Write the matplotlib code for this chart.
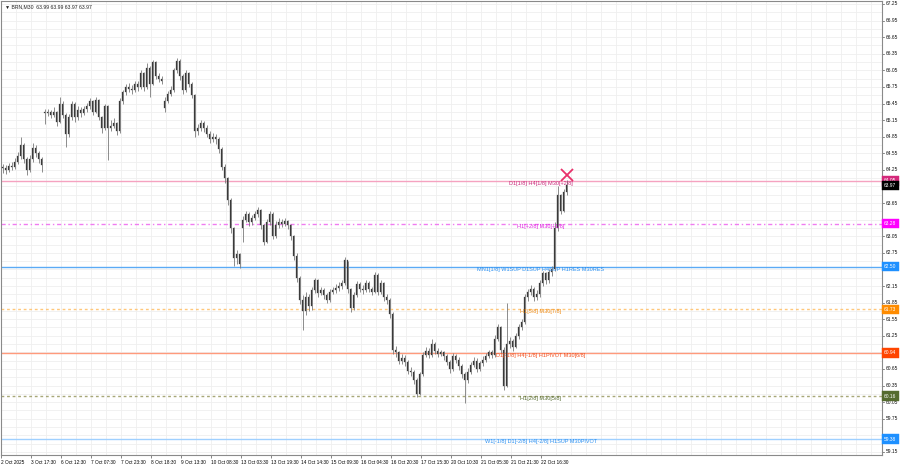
import matplotlib
matplotlib.use("Agg")
import matplotlib.pyplot as plt
import matplotlib.transforms as mtransforms
import numpy as np

# ---------------- data ----------------
closes = [64.28, 64.25, 64.32, 64.30, 64.40, 64.50, 64.70, 64.45, 64.25, 64.45,
          64.65, 64.55, 64.45, 64.33, 65.28, 65.30, 65.25, 65.30, 65.12, 65.45,
          65.25, 64.90, 65.20, 65.45, 65.20, 65.33, 65.28, 65.35, 65.40, 65.50,
          65.30, 65.52, 65.20, 65.00, 65.40, 65.00, 65.05, 65.10, 64.95, 65.50,
          65.65, 65.75, 65.72, 65.70, 65.80, 65.75, 66.00, 65.75, 66.10, 65.80,
          66.20, 65.95, 65.90, 65.85, 65.50, 65.62, 65.70, 66.05, 66.22, 65.95,
          65.70, 66.00, 65.80, 65.60, 64.95, 65.00, 65.10, 65.00, 64.90, 64.80,
          64.85, 64.80, 64.62, 64.30, 64.10, 63.70, 63.20, 62.65, 62.72, 62.55,
          63.35, 63.45, 63.30, 63.38, 63.45, 63.52, 63.25, 62.95, 63.30, 63.45,
          63.05, 63.25, 63.30, 63.28, 63.32, 63.25, 63.05, 62.70, 62.30, 61.90,
          61.70, 61.95, 61.78, 62.08, 62.25, 62.02, 62.08, 61.98, 61.90, 62.05,
          62.08, 62.12, 62.15, 62.20, 62.62, 62.10, 61.75, 61.98, 62.18, 62.10,
          62.08, 62.20, 62.10, 62.05, 62.35, 62.05, 62.20, 61.95, 61.90, 61.65,
          61.00, 60.95, 60.80, 60.85, 60.78, 60.62, 60.60, 60.45, 60.20, 60.55,
          60.90, 60.98, 60.90, 61.10, 60.98, 60.92, 60.95, 60.88, 60.78, 60.65,
          60.88, 60.82, 60.70, 60.55, 60.45, 60.60, 60.72, 60.80, 60.65, 60.75,
          60.82, 60.88, 60.95, 60.90, 61.20, 61.40, 61.00, 60.35, 61.10, 61.15,
          61.05, 61.25, 61.40, 61.50, 61.95, 62.05, 62.10, 61.95, 62.00, 62.20,
          62.38, 62.25, 62.40, 62.45, 63.20, 63.80, 63.50, 63.85, 63.97]

highs = [64.36, 64.33, 64.38, 64.40, 64.46, 64.58, 64.84, 64.74, 64.48, 64.52,
         64.74, 64.70, 64.60, 64.48, 65.36, 65.36, 65.34, 65.38, 65.32, 65.57,
         65.50, 65.28, 65.26, 65.50, 65.48, 65.40, 65.38, 65.40, 65.46, 65.55,
         65.52, 65.57, 65.54, 65.22, 65.44, 65.42, 65.15, 65.18, 65.12, 65.55,
         65.70, 65.80, 65.82, 65.78, 65.86, 65.85, 66.06, 66.02, 66.18, 66.12,
         66.24, 66.22, 66.00, 65.95, 65.56, 65.68, 65.76, 66.10, 66.27, 66.25,
         65.98, 66.06, 66.02, 65.84, 65.62, 65.08, 65.16, 65.14, 65.06, 64.95,
         64.92, 64.90, 64.84, 64.66, 64.35, 64.12, 63.75, 63.22, 62.80, 62.75,
         63.42, 63.50, 63.48, 63.44, 63.50, 63.58, 63.55, 63.28, 63.36, 63.50,
         63.48, 63.32, 63.38, 63.36, 63.38, 63.35, 63.28, 63.08, 62.74, 62.34,
         61.98, 62.05, 62.00, 62.14, 62.30, 62.28, 62.14, 62.12, 62.02, 62.10,
         62.14, 62.18, 62.22, 62.26, 62.67, 62.60, 62.12, 62.04, 62.24, 62.22,
         62.16, 62.26, 62.24, 62.14, 62.40, 62.38, 62.26, 62.22, 62.00, 61.94,
         61.68, 61.06, 60.98, 60.92, 60.90, 60.82, 60.68, 60.64, 60.48, 60.60,
         60.96, 61.04, 61.02, 61.20, 61.14, 61.02, 61.00, 60.98, 60.92, 60.82,
         60.94, 60.92, 60.86, 60.74, 60.60, 60.66, 60.78, 60.86, 60.84, 60.80,
         60.88, 60.94, 61.00, 61.00, 61.26, 61.46, 61.42, 61.04, 61.84, 61.22,
         61.20, 61.30, 61.46, 61.56, 62.00, 62.10, 62.16, 62.14, 62.08, 62.26,
         62.42, 62.40, 62.46, 62.52, 63.30, 63.95, 63.82, 63.90, 64.07]

lows = [64.20, 64.18, 64.22, 64.24, 64.27, 64.36, 64.45, 64.38, 64.16, 64.22,
        64.40, 64.48, 64.38, 64.22, 65.08, 65.22, 65.18, 65.20, 65.05, 65.10,
        65.18, 64.67, 64.85, 65.15, 65.12, 65.15, 65.20, 65.24, 65.30, 65.36,
        65.25, 65.28, 65.15, 64.92, 64.98, 64.43, 64.95, 65.00, 64.88, 64.92,
        65.45, 65.60, 65.66, 65.62, 65.66, 65.68, 65.72, 65.68, 65.72, 65.57,
        65.78, 65.90, 65.84, 65.80, 65.30, 65.46, 65.58, 65.66, 66.00, 65.88,
        65.62, 65.66, 65.74, 65.55, 64.84, 64.88, 64.95, 64.94, 64.84, 64.74,
        64.76, 64.72, 64.55, 64.24, 64.02, 63.62, 63.10, 62.52, 62.55, 62.47,
        62.95, 63.30, 63.24, 63.26, 63.34, 63.40, 63.18, 62.89, 62.92, 63.26,
        63.00, 63.02, 63.20, 63.22, 63.24, 63.18, 62.98, 62.62, 62.22, 61.82,
        61.35, 61.62, 61.70, 61.72, 62.02, 61.95, 61.98, 61.92, 61.84, 61.86,
        62.00, 62.02, 62.06, 62.10, 62.16, 62.02, 61.68, 61.72, 61.95, 62.04,
        62.00, 62.04, 62.04, 61.98, 62.02, 61.98, 62.00, 61.88, 61.82, 61.58,
        60.92, 60.86, 60.74, 60.74, 60.70, 60.56, 60.52, 60.38, 60.14, 60.18,
        60.52, 60.86, 60.84, 60.86, 60.92, 60.86, 60.88, 60.82, 60.72, 60.58,
        60.62, 60.76, 60.64, 60.48, 60.04, 60.40, 60.56, 60.68, 60.60, 60.62,
        60.70, 60.78, 60.84, 60.84, 60.86, 61.15, 60.94, 60.27, 60.32, 61.02,
        60.98, 61.02, 61.20, 61.36, 61.46, 61.88, 61.98, 61.88, 61.90, 61.96,
        62.15, 62.18, 62.20, 62.34, 62.42, 63.15, 63.45, 63.48, 63.80]

first_open = 64.30
gap_bars = [14, 54, 80]
gap_opens = [65.30, 65.37, 63.20]

time_labels = ["2 Oct 2025", "3 Oct 17:30", "6 Oct 12:30", "7 Oct 07:30",
               "7 Oct 23:30", "8 Oct 18:30", "9 Oct 13:30", "10 Oct 08:30",
               "13 Oct 03:30", "13 Oct 19:30", "14 Oct 14:30", "15 Oct 09:30",
               "16 Oct 04:30", "16 Oct 20:30", "17 Oct 15:30", "20 Oct 10:30",
               "21 Oct 05:30", "21 Oct 21:30", "22 Oct 16:30"]

price_ticks = [67.25, 66.95, 66.65, 66.35, 66.05, 65.75, 65.45, 65.15, 64.85,
               64.55, 64.25, 63.95, 63.65, 63.35, 63.05, 62.75, 62.45, 62.15,
               61.85, 61.55, 61.25, 60.95, 60.65, 60.35, 60.05, 59.75, 59.45,
               59.15]

level_prices = [64.05, 63.28, 62.50, 61.73, 60.94, 60.16, 59.38]
level_texts = ["D1[1/8] H4[1/8] M30[+2/8]",
               "H1[+2/8] M30[+1/8]",
               "MN1[1/8] W1SUP D1SUP H4SUP H1RES M30RES",
               "H1[5/8] M30[7/8]",
               "D1[-1/8] H4[-1/8] H1PIVOT M30[6/8]",
               "H1[2/8] M30[5/8]",
               "W1[-1/8] D1[-2/8] H4[-2/8] H1SUP M30PIVOT"]
level_line_colors = ["#f5a3c0", "#f07cf0", "#5aaaf5", "#ffc77a", "#ff9a7c",
                     "#a8a878", "#9fd0ff"]
level_text_colors = ["#c8287a", "#e020e0", "#2a8ff0", "#f08a10", "#f05020",
                     "#556b2f", "#2a8ff0"]
level_box_colors = ["#d4287a", "#ff00ff", "#1e90ff", "#ff8c00", "#ff4500",
                    "#556b2f", "#1e90ff"]
level_styles = ["-", (0, (3, 2, 1, 2)), "-", (0, (2, 2)), "-", (0, (2, 2)), "-"]

symbol_text = "BRN,M30  63.99 63.99 63.97 63.97"
current_price = 63.97
signal_price = 64.16

# ---------------- figure ----------------
W, H = 900, 468
fig = plt.figure(figsize=(W / 100, H / 100), dpi=100)
fig.patch.set_facecolor("white")
ax = fig.add_axes([1 / W, 13 / H, 881 / W, 454 / H])
ax.set_facecolor("white")

n = len(closes)
opens = [first_open] + closes[:-1]
for b, o in zip(gap_bars, gap_opens):
    opens[b] = o
xs = np.arange(n)

# grid
for gx in np.arange(-0.5, 294, 5):
    ax.axvline(gx, color="#efefef", lw=0.6, zorder=0)
for gy in np.arange(59.15, 67.3, 0.15):
    ax.axhline(gy, color="#efefef", lw=0.6, zorder=0)

# levels
for p, st, lc in zip(level_prices, level_styles, level_line_colors):
    ax.axhline(p, color=lc, lw=1.0, ls=st, zorder=1)

# candles
ax.vlines(xs, lows, highs, color="#7a7a7a", lw=0.6, zorder=3)
bottoms = np.minimum(opens, closes)
heights = np.maximum(np.abs(np.array(closes) - np.array(opens)), 0.012)
ax.bar(xs, heights, bottom=bottoms, width=0.42, color="#3a3a3a",
       edgecolor="#3a3a3a", lw=0.2, zorder=4)

# signal cross
ax.plot([n - 1 + 0.3], [signal_price], marker="x", ms=9, mew=1.3,
        color="#e8306a", zorder=6)

# level labels
trans = mtransforms.blended_transform_factory(ax.transAxes, ax.transData)
for p, t, tc in zip(level_prices, level_texts, level_text_colors):
    ax.text(0.6125, p, t, transform=trans, ha="center", va="top",
            fontsize=4.0, family="Liberation Sans", color=tc, zorder=7)

ax.set_xlim(-0.5, -0.5 + 881 / 3)
ax.set_ylim(59.094, 67.304)

# x ticks
xt = [-0.5 + 10 * k for k in range(len(time_labels))]
ax.set_xticks(xt)
ax.set_xticklabels(time_labels, ha="left", fontsize=3.4, family="Liberation Sans")
ax.tick_params(axis="x", length=2, width=0.5, pad=1.5, color="#555555")
ax.set_yticks([])

for s in ax.spines.values():
    s.set_color("#8a8a8a")
    s.set_linewidth(0.8)

# right price labels (those hidden under a coloured box are not drawn)
box_prices = level_prices + [current_price]
for p in price_ticks:
    ax.plot([1.0, 1.002], [p, p], transform=trans, color="#555555", lw=0.5,
            clip_on=False)
    if min(abs(p - b) for b in box_prices) < 0.085:
        continue
    ax.text(1.004, p, f"{p:.2f}", transform=trans, ha="left", va="center",
            fontsize=3.5, family="Liberation Sans", color="#111111",
            clip_on=False, zorder=8)

# colored price boxes
def price_box(p, fc):
    ax.text(1.0025, p, f"{p:.2f}", transform=trans, ha="left", va="center",
            fontsize=3.5, family="Liberation Sans", color="white",
            clip_on=False, zorder=10,
            bbox=dict(boxstyle="square,pad=0.45", fc=fc, ec=fc, lw=0.3))

for p, bc in zip(level_prices, level_box_colors):
    price_box(p, bc)
price_box(current_price, "#000000")

# title
ax.text(0.004, 0.993, "\u25BC " + symbol_text, transform=ax.transAxes,
        ha="left", va="top", fontsize=3.7, family=["Liberation Sans", "DejaVu Sans"],
        color="#222222", zorder=9)

fig.savefig("out.png", dpi=100, facecolor="white")
